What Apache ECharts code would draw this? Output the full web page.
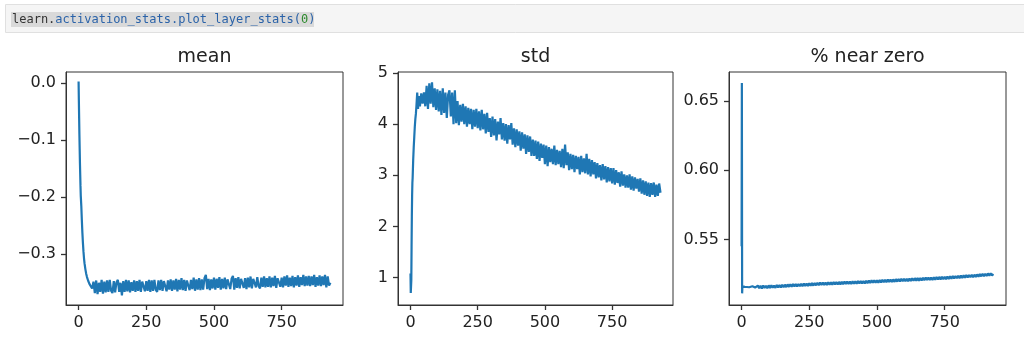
<!DOCTYPE html>
<html>
<head>
<meta charset="utf-8">
<script src="https://cdn.jsdelivr.net/npm/echarts@6/dist/echarts.min.js"></script>
<style>
html,body{margin:0;padding:0;background:#fff;}
#c{width:1024px;height:348px;}
</style>
</head>
<body>
<div id="c"></div>
<script>
const titles = ['mean', 'std', '% near zero'];
const codeLine = 'learn.activation_stats.plot_layer_stats(0)';
const xTicks = [0, 250, 500, 750];
const meanTicks = [0, -0.1, -0.2, -0.3];
const stdTicks = [1, 2, 3, 4, 5];
const nzTicks = [0.55, 0.60, 0.65];

const steps = [0,1,2,3,4,5,6,7,8,10,12,14,16,18,20,22,25,28,31,35,40,45,50,
55,60,65,70,75,80,85,90,95,100,
105,110,115,120,125,130,135,140,145,150,
155,160,165,170,175,180,185,190,195,200,
205,210,215,220,225,230,235,240,245,250,
255,260,265,270,275,280,285,290,295,300,
305,310,315,320,325,330,335,340,345,350,
355,360,365,370,375,380,385,390,395,400,
405,410,415,420,425,430,435,440,445,450,
455,460,465,470,475,480,485,490,495,500,
505,510,515,520,525,530,535,540,545,550,
555,560,565,570,575,580,585,590,595,600,
605,610,615,620,625,630,635,640,645,650,
655,660,665,670,675,680,685,690,695,700,
705,710,715,720,725,730,735,740,745,750,
755,760,765,770,775,780,785,790,795,800,
805,810,815,820,825,830,835,840,845,850,
855,860,865,870,875,880,885,890,895,900,
905,910,915,920,925,930];

const meanVals = [0.003,-0.03,-0.06,-0.09,-0.115,-0.14,-0.16,-0.18,-0.197,-0.215,-0.24,-0.262,-0.28,-0.295,-0.307,-0.316,-0.326,-0.334,-0.34,-0.346,-0.352,-0.356,-0.36,
-0.348,-0.368,-0.346,-0.370,-0.350,-0.366,-0.345,-0.369,-0.348,-0.367,
-0.346,-0.366,-0.345,-0.364,-0.368,-0.347,-0.367,-0.349,-0.345,-0.366,
-0.350,-0.372,-0.347,-0.366,-0.345,-0.365,-0.346,-0.367,-0.349,-0.364,
-0.346,-0.366,-0.347,-0.364,-0.345,-0.366,-0.348,-0.345,-0.365,-0.347,
-0.364,-0.345,-0.366,-0.346,-0.364,-0.345,-0.362,-0.366,-0.346,-0.363,
-0.345,-0.364,-0.347,-0.344,-0.365,-0.346,-0.362,-0.344,-0.364,-0.346,
-0.362,-0.343,-0.365,-0.345,-0.362,-0.342,-0.363,-0.345,-0.364,-0.346,
-0.343,-0.363,-0.345,-0.361,-0.341,-0.364,-0.344,-0.362,-0.342,-0.363,
-0.344,-0.362,-0.342,-0.336,-0.361,-0.343,-0.363,-0.344,-0.360,-0.341,
-0.362,-0.343,-0.359,-0.340,-0.362,-0.343,-0.360,-0.341,-0.361,-0.344,
-0.341,-0.361,-0.343,-0.338,-0.362,-0.342,-0.359,-0.340,-0.360,-0.343,
-0.340,-0.359,-0.342,-0.361,-0.341,-0.358,-0.339,-0.360,-0.343,-0.340,
-0.358,-0.340,-0.356,-0.360,-0.341,-0.357,-0.339,-0.358,-0.342,-0.357,
-0.339,-0.358,-0.341,-0.356,-0.338,-0.359,-0.342,-0.340,-0.357,-0.341,
-0.358,-0.339,-0.355,-0.337,-0.357,-0.341,-0.356,-0.338,-0.358,-0.340,
-0.355,-0.337,-0.357,-0.340,-0.354,-0.336,-0.356,-0.339,-0.355,-0.338,
-0.356,-0.339,-0.354,-0.336,-0.357,-0.340,-0.355,-0.337,-0.356,-0.339,
-0.354,-0.336,-0.358,-0.339,-0.355,-0.350];

const stdVals = [1.08,0.70,0.68,0.95,1.6,2.2,2.6,2.85,2.95,3.3,3.55,3.75,3.95,4.1,4.2,4.35,4.62,4.3,4.55,4.35,4.6,4.4,4.62,
4.35,4.75,4.30,4.80,4.40,4.82,4.33,4.70,4.28,4.68,
4.25,4.65,4.18,4.70,4.22,4.62,4.12,4.58,4.66,4.15,
4.62,4.00,4.66,4.02,4.45,3.98,4.38,4.05,4.40,4.00,
4.35,3.95,4.32,4.00,4.30,3.90,4.28,3.95,4.30,3.92,
4.25,3.88,4.28,3.90,4.20,3.82,4.22,3.85,4.12,3.75,
4.15,3.78,4.10,3.68,4.05,3.80,4.12,3.70,4.02,3.68,
4.00,3.62,3.98,3.70,4.02,3.60,3.92,3.55,3.90,3.58,
3.86,3.48,3.84,3.52,3.80,3.42,3.78,3.46,3.76,3.38,
3.70,3.38,3.68,3.32,3.66,3.28,3.62,3.34,3.60,3.22,
3.58,3.18,3.55,3.26,3.52,3.22,3.58,3.20,3.50,3.22,
3.48,3.16,3.52,3.14,3.60,3.20,3.45,3.10,3.42,3.12,
3.40,3.06,3.38,3.12,3.36,3.02,3.38,3.06,3.33,3.04,
3.42,3.02,3.32,2.98,3.30,3.02,3.26,2.94,3.24,2.96,
3.20,2.90,3.22,2.92,3.18,2.86,3.16,2.88,3.14,2.84,
3.14,2.82,3.10,2.85,3.06,2.78,3.08,2.80,3.02,2.76,
3.00,2.76,3.02,2.72,2.98,2.70,2.96,2.74,2.93,2.68,
2.94,2.64,2.90,2.62,2.88,2.60,2.86,2.58,2.85,2.62,
2.86,2.58,2.82,2.60,2.84,2.66];

const nearZeroVals = [0.545,0.663,0.511,0.516,0.5165,0.5158,0.5162,0.5168,0.5160,0.5164,0.5157,0.5163,0.5158,0.5161,0.5156,0.5162,0.5159,0.5154,0.5160,0.5155,0.5161,0.5156,0.5152,
0.5146,0.5166,0.5148,0.5165,0.5145,0.5167,0.5149,0.5164,0.5147,0.5168,
0.5149,0.5169,0.5151,0.5167,0.5150,0.5171,0.5152,0.5170,0.5153,0.5172,
0.5154,0.5173,0.5155,0.5175,0.5157,0.5176,0.5158,0.5177,0.5159,0.5178,
0.5159,0.5178,0.5161,0.5180,0.5162,0.5181,0.5163,0.5182,0.5164,0.5183,
0.5165,0.5184,0.5166,0.5185,0.5168,0.5186,0.5169,0.5188,0.5170,0.5188,
0.5170,0.5189,0.5171,0.5190,0.5172,0.5191,0.5173,0.5192,0.5174,0.5192,
0.5174,0.5193,0.5175,0.5194,0.5176,0.5195,0.5177,0.5196,0.5178,0.5196,
0.5178,0.5197,0.5179,0.5198,0.5180,0.5199,0.5181,0.5200,0.5182,0.5200,
0.5182,0.5201,0.5183,0.5203,0.5185,0.5204,0.5186,0.5205,0.5187,0.5205,
0.5187,0.5206,0.5188,0.5208,0.5190,0.5209,0.5191,0.5210,0.5192,0.5210,
0.5192,0.5211,0.5193,0.5213,0.5195,0.5214,0.5196,0.5215,0.5197,0.5215,
0.5197,0.5216,0.5198,0.5218,0.5200,0.5219,0.5201,0.5220,0.5202,0.5220,
0.5202,0.5221,0.5203,0.5223,0.5205,0.5224,0.5206,0.5225,0.5207,0.5225,
0.5207,0.5226,0.5208,0.5228,0.5210,0.5229,0.5211,0.5230,0.5212,0.5230,
0.5213,0.5231,0.5214,0.5233,0.5216,0.5235,0.5218,0.5236,0.5219,0.5237,
0.5220,0.5238,0.5221,0.5240,0.5223,0.5242,0.5225,0.5243,0.5226,0.5244,
0.5227,0.5245,0.5229,0.5247,0.5231,0.5249,0.5233,0.5251,0.5234,0.5252,
0.5236,0.5254,0.5238,0.5255,0.5240,0.5250];

const FONT = 'DejaVu Sans';
const TXT = '#222';
const LINE = '#1f77b4';
const AX = '#333';

const grids = [
  {left: 66, top: 72, width: 277, height: 233},
  {left: 398, top: 72, width: 275, height: 233},
  {left: 729, top: 72, width: 277, height: 233}
];
const yRanges = [[-0.389, 0.0198], [0.465, 5.02], [0.5026, 0.6709]];
const yTickSets = [meanTicks, stdTicks, nzTicks];
const yFormat = [
  v => (v < -1e-9 ? '\u2212' : '') + Math.abs(v).toFixed(1),
  v => String(Math.round(v)),
  v => v.toFixed(2)
];
const seriesVals = [meanVals, stdVals, nearZeroVals];

const chart = echarts.init(document.getElementById('c'), null, {renderer: 'canvas'});

const option = {
  animation: false,
  backgroundColor: '#fff',
  title: titles.map((t, i) => ({
    text: t,
    left: grids[i].left + grids[i].width / 2,
    top: 48,
    textAlign: 'center',
    padding: 0,
    textStyle: {fontFamily: FONT, fontSize: 19, fontWeight: 'normal', color: TXT}
  })),
  grid: grids.map(g => Object.assign({show: true, borderColor: AX, borderWidth: 1, backgroundColor: 'transparent', containLabel: false}, g)),
  xAxis: grids.map((g, i) => ({
    type: 'value', gridIndex: i, min: -46.5, max: 976.5,
    axisLine: {show: true, onZero: false, lineStyle: {color: AX, width: 1}},
    splitLine: {show: false},
    axisTick: {show: true, length: 5, lineStyle: {color: AX, width: 1.3}, customValues: xTicks},
    axisLabel: {show: true, margin: 10, fontFamily: FONT, fontSize: 16, color: TXT, customValues: xTicks, formatter: v => String(v)}
  })),
  yAxis: grids.map((g, i) => ({
    type: 'value', gridIndex: i, min: yRanges[i][0], max: yRanges[i][1],
    axisLine: {show: true, onZero: false, lineStyle: {color: AX, width: 1}},
    splitLine: {show: false},
    axisTick: {show: true, length: 5, lineStyle: {color: AX, width: 1.3}, customValues: yTickSets[i]},
    axisLabel: {show: true, margin: 10, fontFamily: FONT, fontSize: 16, color: TXT, customValues: yTickSets[i], formatter: yFormat[i]}
  })),
  series: seriesVals.map((vals, i) => ({
    type: 'line', xAxisIndex: i, yAxisIndex: i,
    data: steps.map((s, k) => [s, vals[k]]),
    showSymbol: false, symbol: 'none',
    lineStyle: {color: LINE, width: 2.2},
    clip: true
  })),
  graphic: [
    {type: 'rect', shape: {x: 5.5, y: 4.5, width: 1030, height: 28}, style: {fill: '#f5f5f5', stroke: '#e0e0e0', lineWidth: 1}, silent: true},
    {type: 'rect', shape: {x: 11, y: 12, width: 303, height: 15}, style: {fill: '#d9d9d9'}, silent: true},
    {type: 'text', x: 12, y: 19.5, silent: true,
      style: {
        text: '{a|learn.}{b|activation_stats.plot_layer_stats(}{c|0}{b|)}',
        verticalAlign: 'middle',
        rich: {
          a: {fontFamily: 'DejaVu Sans Mono', fontSize: 12, fill: '#333'},
          b: {fontFamily: 'DejaVu Sans Mono', fontSize: 12, fill: '#2a62a8'},
          c: {fontFamily: 'DejaVu Sans Mono', fontSize: 12, fill: '#2e8b2e'}
        }
      }
    }
  ]
};
chart.setOption(option);
</script>
</body>
</html>
